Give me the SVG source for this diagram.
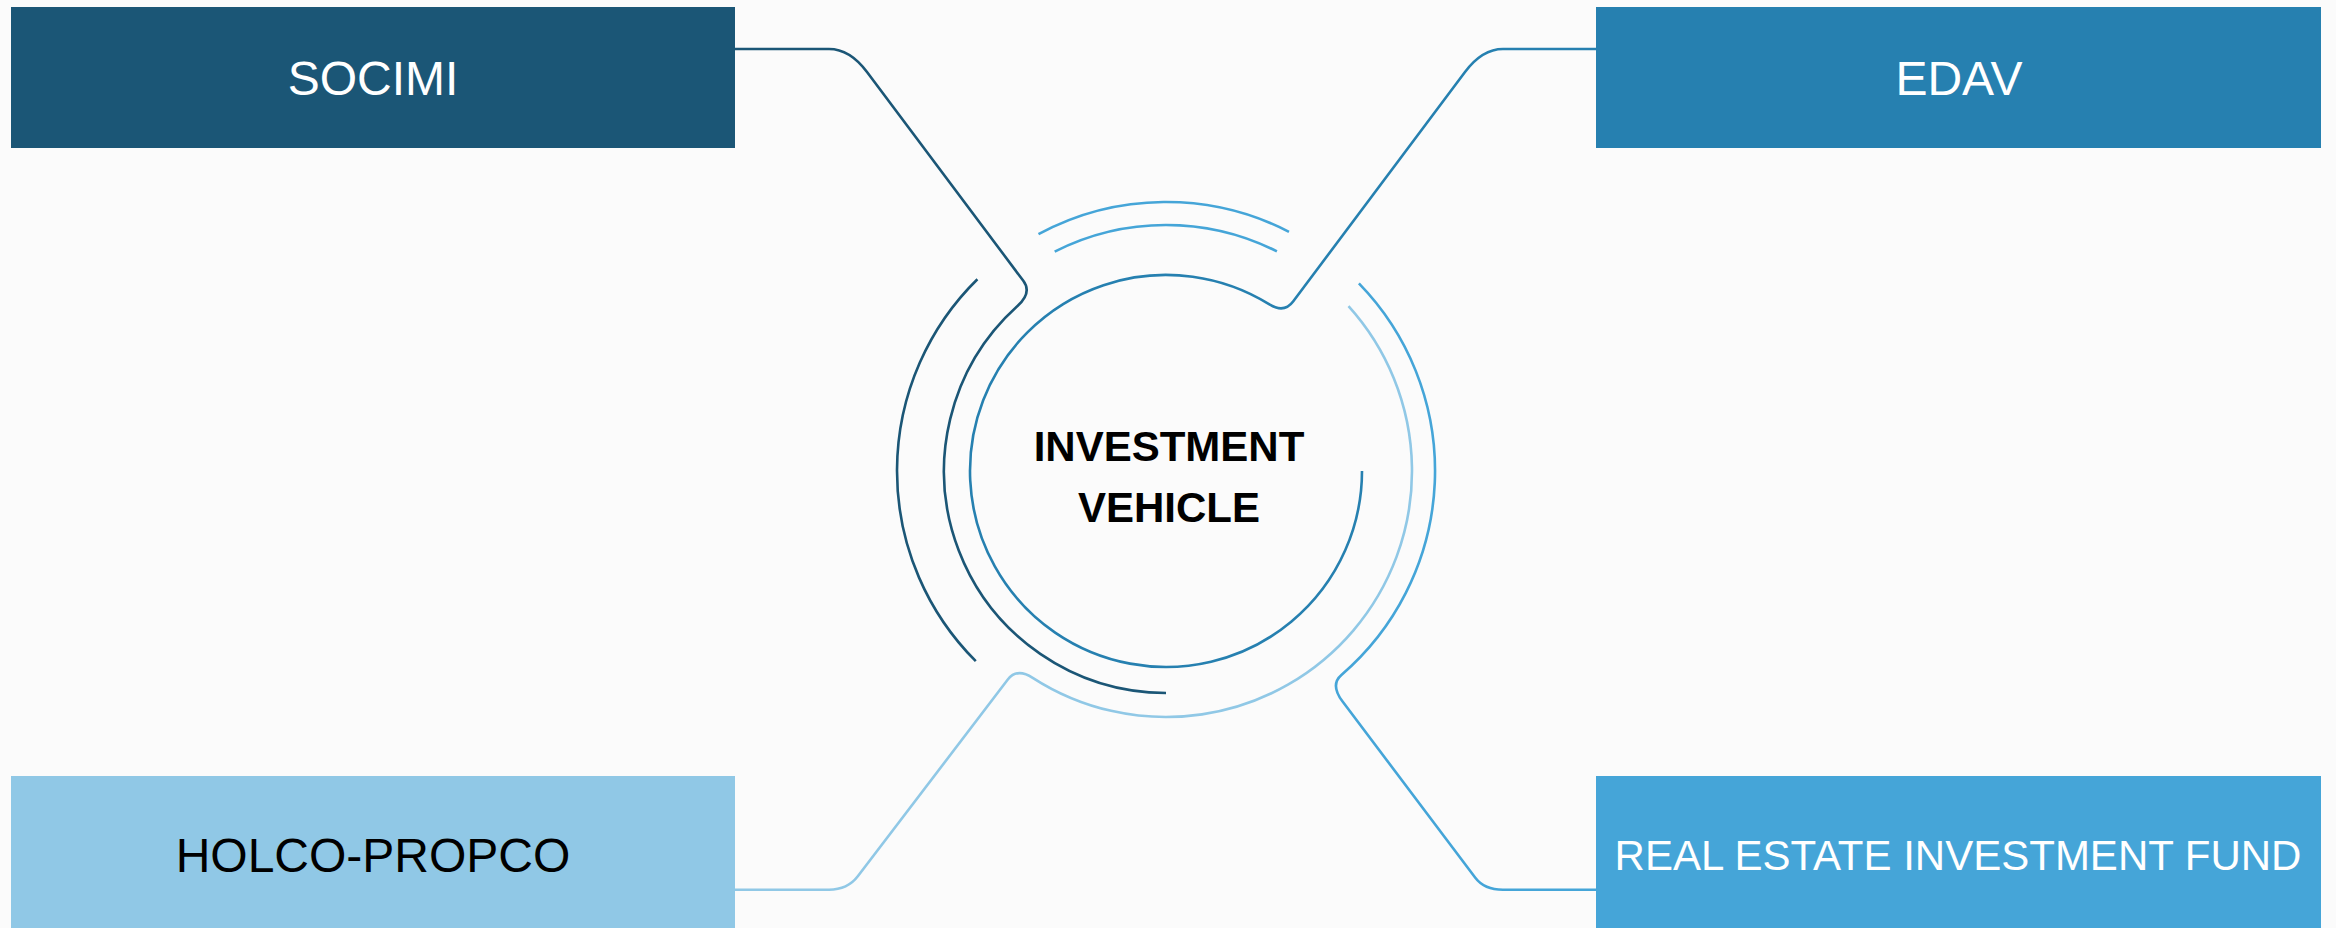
<svg xmlns="http://www.w3.org/2000/svg" width="2336" height="928" viewBox="0 0 2336 928">
  <style>
    .label { font-family: "Liberation Sans", Arial, sans-serif; font-size: 48px; text-anchor: middle; }
    .light { fill: #ffffff; }
    .dark { fill: #000000; }
    .core { font-family: "Liberation Sans", Arial, sans-serif; font-size: 42px; font-weight: bold; fill: #000000; text-anchor: middle; }
    .line { fill: none; stroke-width: 2.6; stroke-linecap: butt; stroke-linejoin: round; }
    .c1 { stroke: #1b5676; }
    .c2 { stroke: #2680b0; }
    .c3 { stroke: #90c8e6; }
    .c4 { stroke: #45a5d8; }
  </style>

  <rect width="2336" height="928" fill="#fbfbfb"/>

  <!-- connectors: each box line runs into one ring around the centre (1166,471) -->
  <g id="connectors">
    <!-- SOCIMI -> ring r=222 -->
    <path class="line c1" d="M 735 49 H 829 Q 849.8 49 867 72 L 1023.3 280.8 Q 1032.3 292.7 1017.5 306 A 222 222 0 0 0 1166 693"/>
    <!-- EDAV -> ring r=196 -->
    <path class="line c2" d="M 1596 49 H 1503 Q 1482.2 49 1465 72 L 1293.1 301.5 Q 1284.1 313.6 1269 304.2 A 196 196 0 1 0 1362 471"/>
    <!-- HOLCO-PROPCO -> ring r=246 -->
    <path class="line c3" d="M 735 889.7 H 829 Q 847.6 889.7 857.8 876.3 L 1007.8 679.5 Q 1016.9 667.6 1032.7 677.8 A 246 246 0 0 0 1348.5 306.1"/>
    <!-- REAL ESTATE INVESTMENT FUND -> ring r=269 -->
    <path class="line c4" d="M 1596 889.7 H 1503 Q 1484.3 889.7 1475.3 877.7 L 1342.4 701.3 Q 1330 684.7 1341.4 674.9 A 269 269 0 0 0 1358.9 283.4"/>

    <!-- free-standing ring segments -->
    <path class="line c1" d="M 977.4 279.2 A 269 269 0 0 0 975.8 661.2"/>
    <path class="line c4" d="M 1038.5 234.2 A 269 269 0 0 1 1289 231.8"/>
    <path class="line c4" d="M 1054.7 251.6 A 246 246 0 0 1 1276.9 251.4"/>
  </g>

  <g id="socimi">
    <rect x="11" y="7" width="724" height="141" fill="#1b5676"/>
    <text class="label light" x="373" y="95">SOCIMI</text>
  </g>

  <g id="edav">
    <rect x="1596" y="7" width="725" height="141" fill="#2680b0"/>
    <text class="label light" x="1959" y="95">EDAV</text>
  </g>

  <g id="holco-propco">
    <rect x="11" y="776" width="724" height="152" fill="#90c8e6"/>
    <text class="label dark" x="373" y="872">HOLCO-PROPCO</text>
  </g>

  <g id="real-estate-investment-fund">
    <rect x="1596" y="776" width="725" height="152" fill="#45a5d8"/>
    <text class="label light" x="1958" y="870" style="font-size:42px">REAL ESTATE INVESTMENT FUND</text>
  </g>

  <g id="investment-vehicle">
    <text class="core" x="1169" y="461">INVESTMENT</text>
    <text class="core" x="1169" y="522">VEHICLE</text>
  </g>
</svg>
